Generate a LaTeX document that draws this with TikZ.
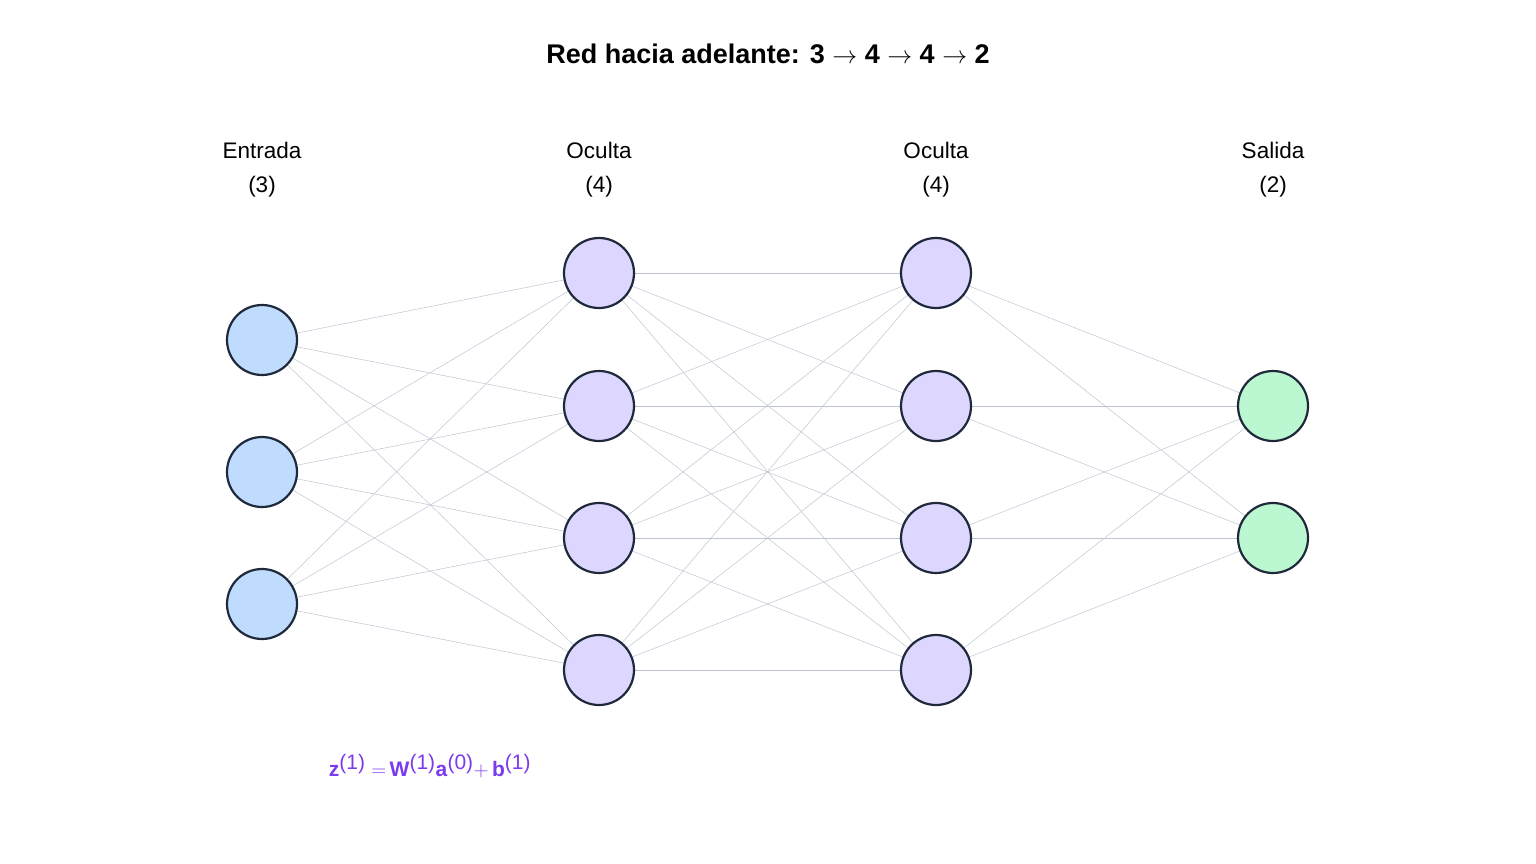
\documentclass[tikz,border=0pt]{standalone}
\usepackage{fontspec}
\setmainfont{Liberation Sans}
\begin{document}
\begin{tikzpicture}[x=1pt,y=-1pt,
  neu/.style={circle,line width=2.2pt,minimum size=70pt,inner sep=0pt},
  inp/.style={neu,fill={rgb,255:red,191;green,219;blue,254}},
  hid/.style={neu,fill={rgb,255:red,221;green,214;blue,254}},
  outn/.style={neu,fill={rgb,255:red,187;green,247;blue,208}},
  edge/.style={draw={rgb,255:red,190;green,196;blue,212},line width=0.5pt},
  lab/.style={font=\fontsize{22.5}{34}\selectfont,align=center}]
\useasboundingbox (0,0) rectangle (1536,864);
\definecolor{ncol}{RGB}{30,41,59}
\tikzset{neu/.append style={draw=ncol}}
\node[font=\bfseries\fontsize{27}{30}\selectfont] (title) at (768,54) {Red hacia adelante: 3 $\rightarrow$ 4 $\rightarrow$ 4 $\rightarrow$ 2};
\node[lab] (l0) at (262,170) {Entrada\\(3)};
\node[lab] (l1) at (599,170) {Oculta\\(4)};
\node[lab] (l2) at (936,170) {Oculta\\(4)};
\node[lab] (l3) at (1273,170) {Salida\\(2)};
\foreach \i/\y in {1/340,2/472,3/604} \coordinate (a\i) at (262,\y);
\foreach \i/\y in {1/273,2/406,3/538,4/670} \coordinate (b\i) at (599,\y);
\foreach \i/\y in {1/273,2/406,3/538,4/670} \coordinate (c\i) at (936,\y);
\foreach \i/\y in {1/406,2/538} \coordinate (d\i) at (1273,\y);
\foreach \i in {1,2,3} \foreach \j in {1,...,4} \draw[edge] (a\i) -- (b\j);
\foreach \i in {1,...,4} \foreach \j in {1,...,4} \draw[edge] (b\i) -- (c\j);
\foreach \i in {1,...,4} \foreach \j in {1,2} \draw[edge] (c\i) -- (d\j);
\foreach \i in {1,2,3} \node[inp] (na\i) at (a\i) {};
\foreach \i in {1,...,4} \node[hid] (nb\i) at (b\i) {};
\foreach \i in {1,...,4} \node[hid] (nc\i) at (c\i) {};
\foreach \i in {1,2} \node[outn] (nd\i) at (d\i) {};
\definecolor{fcol}{RGB}{124,58,237}
\node[text=fcol,font=\fontsize{21}{24}\selectfont] (f) at (430,766) {\textbf{z}$^{\textrm{(1)}}=$\,\textbf{W}$^{\textrm{(1)}}$\textbf{a}$^{\textrm{(0)}}+$\,\textbf{b}$^{\textrm{(1)}}$};
\end{tikzpicture}
\end{document}
